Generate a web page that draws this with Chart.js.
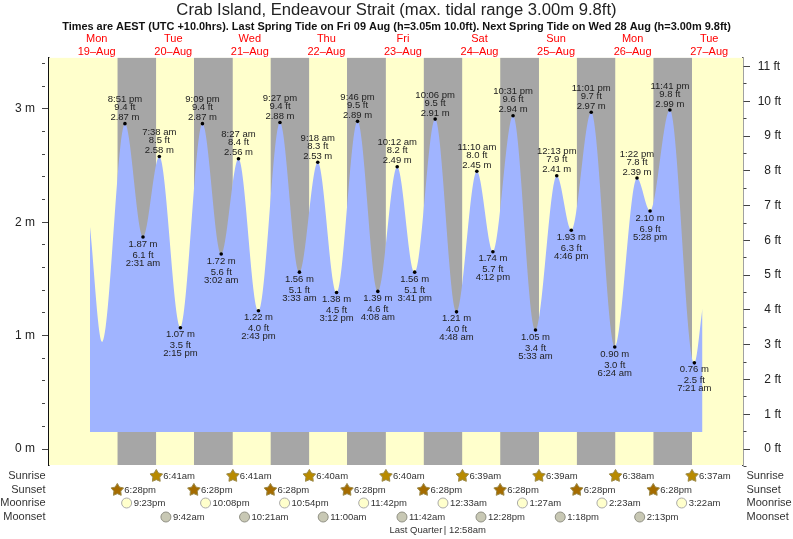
<!DOCTYPE html>
<html>
<head>
<meta charset="utf-8">
<title>Crab Island tide chart</title>
<script src="https://cdn.jsdelivr.net/npm/chart.js@4/dist/chart.umd.min.js"></script>
<style>
  html, body { margin: 0; padding: 0; background: #fff; }
  canvas { display: block; }
</style>
</head>
<body>
<canvas id="tideChart" width="793" height="539"></canvas>
<script>
const titleText = 'Crab Island, Endeavour Strait (max. tidal range 3.00m 9.8ft)';
const subtitleText = 'Times are AEST (UTC +10.0hrs). Last Spring Tide on Fri 09 Aug (h=3.05m 10.0ft). Next Spring Tide on Wed 28 Aug (h=3.00m 9.8ft)';

const dayNames = ['Mon', 'Tue', 'Wed', 'Thu', 'Fri', 'Sat', 'Sun', 'Mon', 'Tue'];
const dayDates = ['19–Aug', '20–Aug', '21–Aug', '22–Aug', '23–Aug', '24–Aug', '25–Aug', '26–Aug', '27–Aug'];
const dayNoons = [12, 36, 60, 84, 108, 132, 156, 180, 204];

const meterTicks = [0, 0.2, 0.4, 0.6, 0.8, 1, 1.2, 1.4, 1.6, 1.8, 2, 2.2, 2.4, 2.6, 2.8, 3, 3.2, 3.4];
const feetTicks = [-0.5, 0, 0.5, 1, 1.5, 2, 2.5, 3, 3.5, 4, 4.5, 5, 5.5, 6, 6.5, 7, 7.5, 8, 8.5, 9, 9.5, 10, 10.5, 11];

// high and low waters, they alternate and start with a high
const tideDays = [19, 20, 20, 20, 20, 21, 21, 21, 21, 22, 22, 22, 22, 23, 23, 23, 23, 24, 24, 24, 24, 25, 25, 25, 25, 26, 26, 26, 26, 27];
const tideClocks = ['8:51 pm', '2:31 am', '7:38 am', '2:15 pm', '9:09 pm', '3:02 am', '8:27 am', '2:43 pm', '9:27 pm', '3:33 am',
  '9:18 am', '3:12 pm', '9:46 pm', '4:08 am', '10:12 am', '3:41 pm', '10:06 pm', '4:48 am', '11:10 am', '4:12 pm',
  '10:31 pm', '5:33 am', '12:13 pm', '4:46 pm', '11:01 pm', '6:24 am', '1:22 pm', '5:28 pm', '11:41 pm', '7:21 am'];
const tideMeters = [2.87, 1.87, 2.58, 1.07, 2.87, 1.72, 2.56, 1.22, 2.88, 1.56,
  2.53, 1.38, 2.89, 1.39, 2.49, 1.56, 2.91, 1.21, 2.45, 1.74,
  2.94, 1.05, 2.41, 1.93, 2.97, 0.90, 2.39, 2.10, 2.99, 0.76];
const tideFeet = [9.4, 6.1, 8.5, 3.5, 9.4, 5.6, 8.4, 4.0, 9.4, 5.1,
  8.3, 4.5, 9.5, 4.6, 8.2, 5.1, 9.5, 4.0, 8.0, 5.7,
  9.6, 3.4, 7.9, 6.3, 9.7, 3.0, 7.8, 6.9, 9.8, 2.5];

// the unlabelled ends of the curve (hours after midnight on the 19th)
const leadHours = [9.9, 13.76];
const leadMeters = [1.96, 0.945];
const tailHours = [201.9];
const tailMeters = [1.24];
const tideFloor = 0.15;

const sunriseDays = [20, 21, 22, 23, 24, 25, 26, 27];
const sunriseClocks = ['6:41am', '6:41am', '6:40am', '6:40am', '6:39am', '6:39am', '6:38am', '6:37am'];
const sunsetDays = [19, 20, 21, 22, 23, 24, 25, 26];
const sunsetClocks = ['6:28pm', '6:28pm', '6:28pm', '6:28pm', '6:28pm', '6:28pm', '6:28pm', '6:28pm'];
const moonriseDays = [19, 20, 21, 22, 24, 25, 26, 27];
const moonriseClocks = ['9:23pm', '10:08pm', '10:54pm', '11:42pm', '12:33am', '1:27am', '2:23am', '3:22am'];
const moonsetDays = [20, 21, 22, 23, 24, 25, 26];
const moonsetClocks = ['9:42am', '10:21am', '11:00am', '11:42am', '12:28pm', '1:18pm', '2:13pm'];
const phaseDay = 24;
const phaseClock = '12:58am';
const phaseName = 'Last Quarter';

const FONT = '"Liberation Sans", Arial, sans-serif';
const X_MIN = -2.95, X_MAX = 214.6;
const M_MIN = -0.141, M_MAX = 3.454;
const FT_MIN = -0.46, FT_MAX = 11.264;

function hourOf(day, clock) {
  const m = clock.match(/(\d+):(\d+)\s*([ap])m/);
  return (day - 19) * 24 + (Number(m[1]) % 12) + (m[3] === 'p' ? 12 : 0) + Number(m[2]) / 60;
}

const tidePoints = [
  ...leadHours.map((h, i) => ({ x: h, y: leadMeters[i] })),
  ...tideMeters.map((m, i) => ({ x: hourOf(tideDays[i], tideClocks[i]), y: m })),
  ...tailHours.map((h, i) => ({ x: h, y: tailMeters[i] }))
];

// each night is a flat top edge, filled down to the scale start
const nightPoints = [];
sunsetDays.forEach((d, i) => {
  const dusk = hourOf(d, sunsetClocks[i]);
  const dawn = hourOf(sunriseDays[i], sunriseClocks[i]);
  nightPoints.push({ x: dusk, y: M_MAX }, { x: dawn, y: M_MAX }, { x: dawn, y: null });
});

function drawStar(ctx, x, y, r, fill, stroke) {
  ctx.beginPath();
  for (let i = 0; i < 10; i++) {
    const a = -Math.PI / 2 + i * Math.PI / 5;
    const rad = i % 2 ? r * 0.55 : r;
    ctx.lineTo(x + rad * Math.cos(a), y + rad * Math.sin(a));
  }
  ctx.closePath();
  ctx.fillStyle = fill;
  ctx.fill();
  ctx.strokeStyle = stroke;
  ctx.lineWidth = 1;
  ctx.stroke();
}

function drawMoon(ctx, x, y, fill, stroke) {
  ctx.beginPath();
  ctx.arc(x, y, 5, 0, Math.PI * 2);
  ctx.fillStyle = fill;
  ctx.fill();
  ctx.strokeStyle = stroke;
  ctx.lineWidth = 1;
  ctx.stroke();
}

const tideLabels = {
  id: 'tideLabels',
  afterDatasetsDraw(chart) {
    const { ctx, scales } = chart;
    ctx.save();
    ctx.font = '9.5px ' + FONT;
    ctx.fillStyle = '#222';
    ctx.textAlign = 'center';
    ctx.textBaseline = 'middle';
    tideMeters.forEach((m, i) => {
      const x = scales.x.getPixelForValue(hourOf(tideDays[i], tideClocks[i]));
      const y = scales.y.getPixelForValue(m);
      const meters = m.toFixed(2) + ' m';
      const feet = tideFeet[i].toFixed(1) + ' ft';
      if (i % 2 === 0) {
        ctx.fillText(meters, x, y - 6);
        ctx.fillText(feet, x, y - 16);
        ctx.fillText(tideClocks[i], x, y - 24);
      } else {
        ctx.fillText(meters, x, y + 7);
        ctx.fillText(feet, x, y + 18);
        ctx.fillText(tideClocks[i], x, y + 26);
      }
    });
    ctx.restore();
  }
};

const astroRows = {
  id: 'astroRows',
  afterDraw(chart) {
    const { ctx, scales } = chart;
    const px = (d, c) => scales.x.getPixelForValue(hourOf(d, c));
    ctx.save();
    ctx.textBaseline = 'middle';

    ['Sunrise', 'Sunset', 'Moonrise', 'Moonset'].forEach((name, i) => {
      const y = [476, 490, 503, 517][i];
      ctx.font = '11px ' + FONT;
      ctx.fillStyle = '#333';
      ctx.textAlign = 'right';
      ctx.fillText(name, 45.5, y);
      ctx.textAlign = 'left';
      ctx.fillText(name, 746.5, y);
    });

    ctx.font = '9.5px ' + FONT;
    sunriseDays.forEach((d, i) => {
      const x = px(d, sunriseClocks[i]);
      drawStar(ctx, x, 476, 6.6, '#b88a00', '#9c8a4a');
      ctx.fillStyle = '#333';
      ctx.fillText(sunriseClocks[i], x + 7, 476);
    });
    sunsetDays.forEach((d, i) => {
      const x = px(d, sunsetClocks[i]);
      drawStar(ctx, x, 490, 6.6, '#a56c00', '#9c8a4a');
      ctx.fillStyle = '#333';
      ctx.fillText(sunsetClocks[i], x + 7, 490);
    });
    moonriseDays.forEach((d, i) => {
      const x = px(d, moonriseClocks[i]);
      drawMoon(ctx, x, 503, '#ffffcc', '#aaa');
      ctx.fillStyle = '#333';
      ctx.fillText(moonriseClocks[i], x + 7, 503);
    });
    moonsetDays.forEach((d, i) => {
      const x = px(d, moonsetClocks[i]);
      drawMoon(ctx, x, 517, '#c8c8b4', '#909084');
      ctx.fillStyle = '#333';
      ctx.fillText(moonsetClocks[i], x + 7, 517);
    });

    const qx = px(phaseDay, phaseClock);
    ctx.textAlign = 'right';
    ctx.fillText(phaseName, qx - 2, 530.5);
    ctx.textAlign = 'left';
    ctx.fillText('| ' + phaseClock, qx - 0.5, 530.5);
    ctx.restore();
  }
};

new Chart(document.getElementById('tideChart'), {
  type: 'line',
  data: {
    datasets: [
      {
        label: 'Tide',
        data: tidePoints,
        cubicInterpolationMode: 'monotone',
        borderWidth: 0,
        borderColor: 'rgba(0,0,0,0)',
        backgroundColor: '#a0b4ff',
        fill: { value: tideFloor },
        pointBackgroundColor: '#000',
        pointBorderWidth: 0,
        pointRadius: ctx => {
          const i = ctx.dataIndex - leadHours.length;
          return i >= 0 && i < tideMeters.length ? 1.8 : 0;
        }
      },
      {
        label: 'Night',
        data: nightPoints,
        borderWidth: 0,
        borderColor: 'rgba(0,0,0,0)',
        backgroundColor: '#a6a6a6',
        fill: 'start',
        pointRadius: 0,
        spanGaps: false
      },
      {
        label: 'Day',
        data: [{ x: X_MIN, y: M_MAX }, { x: X_MAX, y: M_MAX }],
        borderWidth: 0,
        borderColor: 'rgba(0,0,0,0)',
        backgroundColor: '#ffffcc',
        fill: 'start',
        pointRadius: 0
      }
    ]
  },
  options: {
    responsive: false,
    animation: false,
    events: [],
    layout: { padding: { left: 0, right: 0, top: 0, bottom: 74 } },
    plugins: {
      legend: { display: false },
      tooltip: { enabled: false },
      title: {
        display: true,
        text: titleText,
        color: '#222',
        font: { family: FONT, size: 16.65, weight: 'normal', lineHeight: 1.2 },
        padding: { top: 0, bottom: 0 }
      },
      subtitle: {
        display: true,
        text: subtitleText,
        color: '#111',
        font: { family: FONT, size: 10.95, weight: 'bold', lineHeight: 1.2 },
        // scale box starts higher so the two line day labels are not clipped
        padding: { top: 0, bottom: -5 }
      }
    },
    scales: {
      x: {
        type: 'linear',
        position: 'top',
        min: X_MIN,
        max: X_MAX,
        afterBuildTicks: axis => { axis.ticks = dayNoons.map(value => ({ value })); },
        afterFit: axis => { axis.height = 29.3; },
        grid: { display: false, drawTicks: false },
        border: { display: false },
        ticks: {
          autoSkip: false,
          maxRotation: 0,
          padding: -1,
          color: '#ff0000',
          font: { family: FONT, size: 11, lineHeight: 1.2 },
          callback: (value, i) => [dayNames[i], dayDates[i]]
        }
      },
      y: {
        type: 'linear',
        position: 'left',
        min: M_MIN,
        max: M_MAX,
        afterBuildTicks: axis => { axis.ticks = meterTicks.map(value => ({ value })); },
        afterFit: axis => { axis.width = 49; },
        border: { display: true, color: '#111', width: 1.5 },
        grid: {
          drawOnChartArea: false,
          tickLength: 7,
          tickColor: '#444',
          tickWidth: 1,
          tickBorderDash: ctx => Number.isInteger(ctx.tick.value) ? [] : [3, 20]
        },
        ticks: {
          autoSkip: false,
          padding: 7,
          color: '#222',
          font: { family: FONT, size: 12 },
          callback: value => Number.isInteger(value) ? value + ' m' : ''
        }
      },
      yFt: {
        type: 'linear',
        axis: 'y',
        position: 'right',
        min: FT_MIN,
        max: FT_MAX,
        afterBuildTicks: axis => { axis.ticks = feetTicks.map(value => ({ value })); },
        afterFit: axis => { axis.width = 50; },
        border: { display: true, color: '#444', width: 1.5 },
        grid: {
          drawOnChartArea: false,
          tickLength: 7,
          tickColor: '#444',
          tickWidth: 1,
          tickBorderDash: ctx => Number.isInteger(ctx.tick.value) ? [] : [3, 20]
        },
        ticks: {
          autoSkip: false,
          padding: 7.7,
          color: '#222',
          font: { family: FONT, size: 12 },
          // two spaces are one digit wide, keeps the labels right aligned
          callback: value => {
            if (!Number.isInteger(value) || value < 0) return '';
            return (value < 10 ? '  ' : '') + value + ' ft';
          }
        }
      }
    }
  },
  plugins: [tideLabels, astroRows]
});
</script>
</body>
</html>
